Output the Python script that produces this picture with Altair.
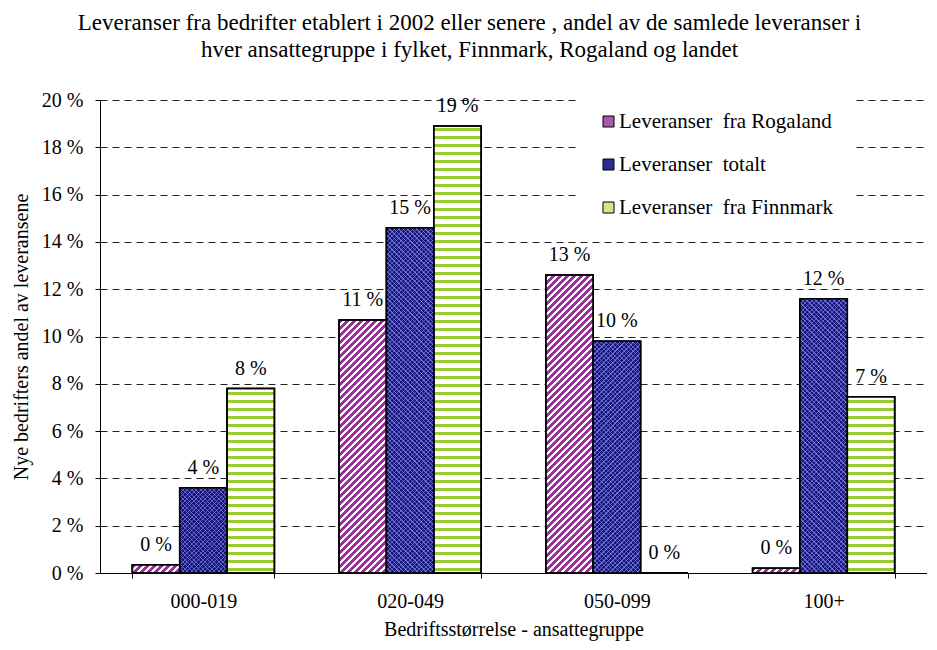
import altair as alt
import pandas as pd

# ---------------- data ----------------
groups = ["000-019", "020-049", "050-099", "100+"]
series = ["Leveranser\u00a0 fra Rogaland", "Leveranser\u00a0 totalt", "Leveranser\u00a0 fra Finnmark"]
rogaland = [0.35, 10.7, 12.6, 0.2]
totalt = [3.6, 14.6, 9.8, 11.6]
finnmark = [7.8, 18.9, 0.0, 7.45]
y_ticks = [0, 2, 4, 6, 8, 10, 12, 14, 16, 18, 20]

title_lines = [
    "Leveranser fra bedrifter etablert i 2002 eller senere , andel av de samlede leveranser i",
    "hver ansattegruppe i fylket, Finnmark, Rogaland og landet",
]

# ---------------- styles ----------------
FONT = "Liberation Serif"
W, H, YMAX = 827, 473, 20
P_IN = 0.313
PURPLE, NAVY, GREEN = "#993399", "#15157f", "#99cc33"
LEG_COLORS = ["#a85aa8", "#2e2e92", "#cfe68f"]

rows = []
for s, vals in zip(series, [rogaland, totalt, finnmark]):
    for g, v in zip(groups, vals):
        rows.append({"id": len(rows), "grp": g, "serie": s, "v": v,
                     "label": f"{round(v)} %"})
df = pd.DataFrame(rows)

bar_w = (W / len(groups)) * (1 - P_IN) / 3


def diag_grad(w, h, period=7.0, dark=4.0, c1=PURPLE, c2="#ffffff", down=False):
    L = w + h
    a = w * (w + h) / (w * w + h * h)
    b = a * h / w
    stops = []
    s = 0.0
    while s < L:
        o1 = round(s / L, 5)
        o2 = round(min((s + dark) / L, 1), 5)
        o3 = round(min((s + period) / L, 1), 5)
        stops += [{"offset": o1, "color": c1}, {"offset": o2, "color": c1},
                  {"offset": o2, "color": c2}, {"offset": o3, "color": c2}]
        s += period
    if down:
        return {"gradient": "linear", "x1": 0, "y1": 1, "x2": round(a, 5),
                "y2": round(1 - b, 5), "stops": stops}
    return {"gradient": "linear", "x1": 0, "y1": 0, "x2": round(a, 5),
            "y2": round(b, 5), "stops": stops}


def hstripe_grad(h, period=8.0, thick=3.0, c1=GREEN, c2="#ffffff"):
    bands = []
    y = h - 2
    while y - thick > 0:
        bands.append((y - thick, y))
        y -= period
    bands.reverse()
    stops = [{"offset": 0, "color": c2}]
    for p, q in bands:
        p, q = round(p / h, 5), round(q / h, 5)
        stops += [{"offset": p, "color": c2}, {"offset": p, "color": c1},
                  {"offset": q, "color": c1}, {"offset": q, "color": c2}]
    stops.append({"offset": 1, "color": c2})
    return {"gradient": "linear", "x1": 0, "y1": 0, "x2": 0, "y2": 1, "stops": stops}


LIGHT = "rgba(170,170,255,0.5)"
CLEAR = "rgba(0,0,0,0)"
conds, conds_up, conds_down = [], [], []
for r in rows:
    h = r["v"] * H / YMAX
    if h <= 0:
        continue
    t = f"datum.id == {r['id']}"
    if r["serie"] == series[0]:
        conds.append({"test": t, "value": diag_grad(bar_w, h)})
    elif r["serie"] == series[2]:
        conds.append({"test": t, "value": hstripe_grad(h)})
    else:
        conds_up.append({"test": t, "value": diag_grad(bar_w, h, 4.5, 1.2, LIGHT, CLEAR)})
        conds_down.append({"test": t, "value": diag_grad(bar_w, h, 4.5, 1.2, LIGHT, CLEAR, down=True)})

x_enc = alt.X("grp:N", sort=groups,
              scale=alt.Scale(paddingInner=P_IN, paddingOuter=P_IN / 2),
              axis=alt.Axis(title="Bedriftsstørrelse - ansattegruppe", labelAngle=0,
                            tickBand="extent", tickSize=5, labelPadding=13,
                            titlePadding=8, domainColor="black", tickColor="black",
                            grid=False, labelFont=FONT, titleFont=FONT,
                            labelFontSize=20, titleFontSize=20, labelColor="black",
                            titleColor="black", titleFontWeight="normal"))
xo_enc = alt.XOffset("serie:N", sort=series, scale=alt.Scale(paddingInner=0, paddingOuter=0))
y_enc = alt.Y("v:Q", scale=alt.Scale(domain=[0, YMAX], nice=False),
              axis=alt.Axis(values=y_ticks, labelExpr="datum.value + ' %'",
                            title="Nye bedrifters andel av leveransene",
                            grid=True, gridDash=[7, 5], gridColor="#222222",
                            gridWidth=1, tickSize=5, labelPadding=12,
                            titlePadding=10, domainColor="black", tickColor="black",
                            labelFont=FONT, titleFont=FONT, labelFontSize=20,
                            titleFontSize=20, labelColor="black", titleColor="black",
                            titleFontWeight="normal"))

base = alt.Chart(df).mark_bar(stroke="black", strokeWidth=1.5).encode(
    x=x_enc, xOffset=xo_enc, y=y_enc,
    color=alt.Color("serie:N", sort=series,
                    scale=alt.Scale(domain=series, range=LEG_COLORS),
                    legend=alt.Legend(orient="none", legendX=478, legendY=-9, title=None,
                                      fillColor="white", padding=20, symbolType="square",
                                      symbolSize=121, symbolStrokeColor="black",
                                      symbolStrokeWidth=1, labelFontSize=21, labelFont=FONT,
                                      rowPadding=21, labelOffset=0, labelLimit=400,
                                      labelColor="black")),
)

over = alt.Chart(df).mark_bar(stroke="black", strokeWidth=1.5).encode(
    x=x_enc, xOffset=xo_enc, y=y_enc,
    fill=alt.FillValue(value=NAVY, condition=conds),
)

lat1 = alt.Chart(df).mark_bar(strokeWidth=0).encode(
    x=x_enc, xOffset=xo_enc, y=y_enc,
    fill=alt.FillValue(value=CLEAR, condition=conds_up),
)
lat2 = alt.Chart(df).mark_bar(stroke="black", strokeWidth=1.5).encode(
    x=x_enc, xOffset=xo_enc, y=y_enc,
    fill=alt.FillValue(value=CLEAR, condition=conds_down),
)

text = alt.Chart(df).mark_text(dy=-20, baseline="middle", font=FONT, fontSize=20,
                               color="black").encode(
    x=x_enc, xOffset=xo_enc, y=y_enc, text="label:N")

chart = alt.layer(base, over, lat1, lat2, text).properties(
    width=W, height=H, autosize="none", background="white",
    padding={"left": 92, "top": 92, "right": 0, "bottom": 69},
    title=alt.Title(text=title_lines, font=FONT, fontSize=23, fontWeight="normal",
                    color="black", dx=-44, offset=28, lineHeight=27),
).configure_view(stroke=None)

chart.save("out.html", embed_options={"renderer": "svg", "actions": False})
